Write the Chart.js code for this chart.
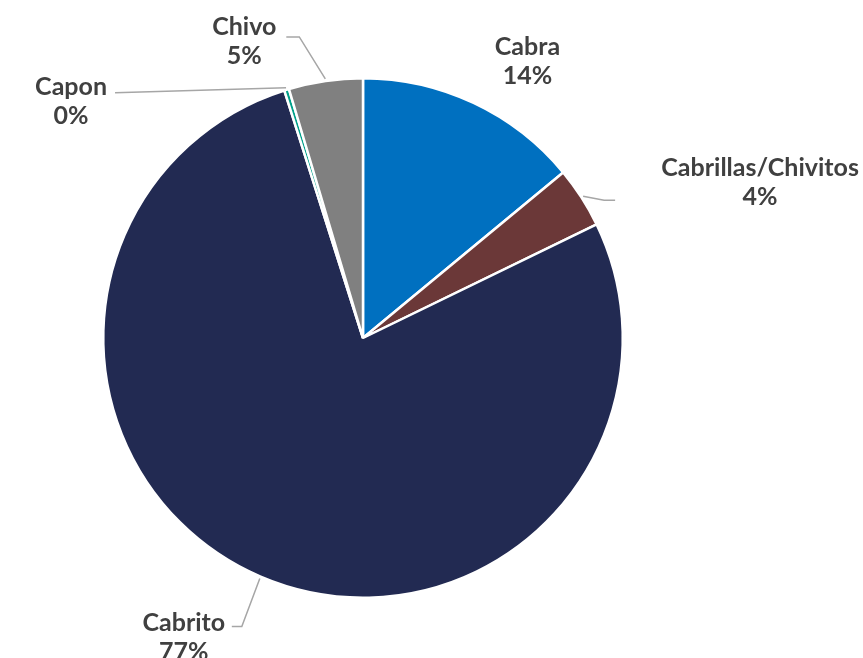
<!DOCTYPE html>
<html>
<head>
<meta charset="utf-8">
<script src="https://cdn.jsdelivr.net/npm/chart.js@4.4.1/dist/chart.umd.min.js"></script>
<style>
html,body{margin:0;padding:0;background:#fff;}
#wrap{width:863px;height:658px;position:relative;}
</style>
</head>
<body>
<div id="wrap"><canvas id="c" width="863" height="658"></canvas></div>
<script>
// ---- data ----
const categories = ["Cabra", "Cabrillas/Chivitos", "Cabrito", "Capon", "Chivo"];
const shares = [14.0, 3.8, 77.3, 0.3, 4.6];
const percentLabels = ["14%", "4%", "77%", "0%", "5%"];
const sliceColors = ["#0070C0", "#6B3838", "#222A52", "#00A08A", "#808080"];

// ---- label layout (offsets relative to the slice's outer-mid anchor) ----
const labelLayout = [
  {line:false, elbow:null,     end:null,      text:[53,-54]},
  {line:true,  elbow:[21,4],   end:[32,4],    text:[177,-28]},
  {line:true,  elbow:[-18,48], end:[-28,48],  text:[-76,44]},
  {line:true,  elbow:null,     end:[-171,5],  text:[-215,-1]},
  {line:true,  elbow:[-26,-42],end:[-39,-42], text:[-81,-52]}
];

const FONT = "bold 25px Lato, 'DejaVu Sans', sans-serif";
const labelPlugin = {
  id: 'pieLabels',
  afterDatasetsDraw(chart) {
    const ctx = chart.ctx;
    const meta = chart.getDatasetMeta(0);
    ctx.save();
    meta.data.forEach((arc, i) => {
      const p = arc.getProps(['x','y','startAngle','endAngle','outerRadius'], true);
      const mid = (p.startAngle + p.endAngle) / 2;
      const r = p.outerRadius + 2;
      const ax = p.x + Math.cos(mid) * r;
      const ay = p.y + Math.sin(mid) * r;
      const L = labelLayout[i];
      if (L.line) {
        ctx.beginPath();
        ctx.strokeStyle = '#A6A6A6';
        ctx.lineWidth = 1.5;
        ctx.moveTo(ax, ay);
        if (L.elbow) ctx.lineTo(ax + L.elbow[0], ay + L.elbow[1]);
        ctx.lineTo(ax + L.end[0], ay + L.end[1]);
        ctx.stroke();
      }
      ctx.fillStyle = '#404040';
      ctx.font = FONT;
      ctx.textAlign = 'center';
      ctx.textBaseline = 'middle';
      const tx = ax + L.text[0], ty = ay + L.text[1];
      ctx.fillText(categories[i], tx, ty);
      ctx.fillText(percentLabels[i], tx, ty + 29);
    });
    ctx.restore();
  }
};

new Chart(document.getElementById('c'), {
  type: 'pie',
  data: {
    labels: categories,
    datasets: [{
      data: shares,
      backgroundColor: sliceColors,
      borderColor: '#FFFFFF',
      borderWidth: 2.5
    }]
  },
  options: {
    responsive: false,
    animation: false,
    layout: { padding: { left: 102, right: 239, top: 77, bottom: 59 } },
    plugins: {
      legend: { display: false },
      tooltip: { enabled: false }
    }
  },
  plugins: [labelPlugin]
});
</script>
</body>
</html>
